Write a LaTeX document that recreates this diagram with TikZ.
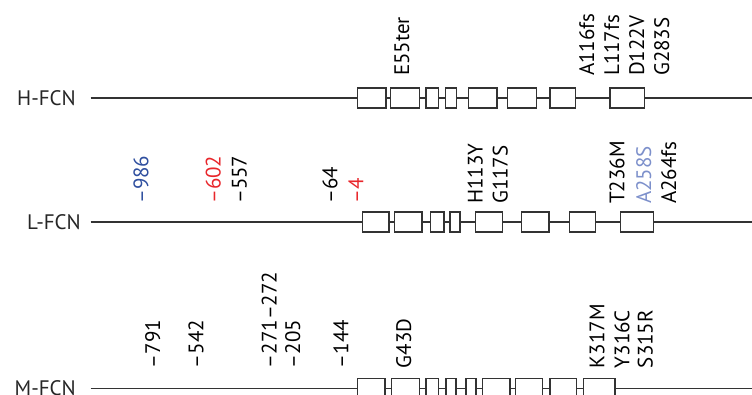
\documentclass[tikz,border=0pt]{standalone}
\usepackage{fontspec}
\setmainfont{PT Sans}
\usepackage{tikz}

\definecolor{snpblue}{HTML}{2F4F9F}
\definecolor{snpred}{HTML}{E8262B}
\definecolor{snplight}{HTML}{7D90CB}

\begin{document}
\begin{tikzpicture}[x=1pt, y=-1pt,
    exon/.style={draw=black!80, fill=white, line width=1.1pt, minimum height=20pt, inner sep=0pt},
    intron/.style={draw=black!80, line width=1.1pt},
    mut/.style={rotate=90, anchor=base west, inner sep=0pt, font=\fontsize{21}{25}\selectfont},
    gene/.style={anchor=east, inner sep=0pt, text=black!85, font=\fontsize{21}{25}\selectfont}]
        \useasboundingbox (0,0) rectangle (752,395);
        \clip (0,0) rectangle (752,395);

        % H-FCN
        \node[gene] (hname) at (76,98) {H-FCN};
        \coordinate (hs) at (90.7,98);
        \coordinate (he) at (752,98);
        \foreach \a/\b [count=\i] in {357.3/386, 390.7/419.3, 426/438.3, 445.7/456.7,
            468.3/497, 507.7/536.7, 550/575.3, 610/644.3}
            \node[exon, minimum width=\b-\a] (h\i) at ({(\a+\b)/2},98) {};
        \draw[intron] (hs) -- (h1);
        \foreach \i [evaluate=\i as \j using int(\i+1)] in {1,...,7}
            \draw[intron] (h\i) -- (h\j);
        \draw[intron] (h8) -- (he);

        \node[mut] (e55) at (409,76) {E55ter};
        \node[mut] (a116) at (594,76) {A116fs};
        \node[mut] (l117) at (619,76) {L117fs};
        \node[mut] (d122) at (644,76) {D122V};
        \node[mut] (g283) at (669,76) {G283S};

        % L-FCN
        \node[gene] (lname) at (81,222) {L-FCN};
        \coordinate (ls) at (90.7,222);
        \coordinate (le) at (752,222);
        \foreach \a/\b [count=\i] in {362.3/389, 394.7/422, 430.3/444, 450/460,
            475.3/502.7, 521.7/549, 569.3/595.3, 620.3/653.7}
            \node[exon, minimum width=\b-\a] (l\i) at ({(\a+\b)/2},222) {};
        \draw[intron] (ls) -- (l1);
        \foreach \i [evaluate=\i as \j using int(\i+1)] in {1,...,7}
            \draw[intron] (l\i) -- (l\j);
        \draw[intron] (l8) -- (le);

        \node[mut, text=snpblue] (p986) at (148.3,204) {–986};
        \node[mut, text=snpred] (p602) at (220.7,204) {–602};
        \node[mut] (p557) at (246.7,204) {–557};
        \node[mut] (p64) at (337.3,204) {–64};
        \node[mut, text=snpred] (p4) at (363.3,204) {–4};
        \node[mut] (h113) at (482.7,204) {H113Y};
        \node[mut] (g117) at (507.7,204) {G117S};
        \node[mut] (t236) at (624.3,204) {T236M};
        \node[mut, text=snplight] (a258) at (651,204) {A258S};
        \node[mut] (a264) at (676,204) {A264fs};

        % M-FCN
        \node[gene] (mname) at (76,388.5) {M-FCN};
        \coordinate (ms) at (90.7,388.5);
        \coordinate (me) at (752,388.5);
        \foreach \a/\b [count=\i] in {357.3/385, 391.7/419.3, 426/438.3, 446/456,
            466/476, 482.7/510, 515.7/542.7, 550/576.7, 583.3/615}
            \node[exon, minimum width=\b-\a] (m\i) at ({(\a+\b)/2},388.5) {};
        \draw[intron] (ms) -- (m1);
        \foreach \i [evaluate=\i as \j using int(\i+1)] in {1,...,8}
            \draw[intron] (m\i) -- (m\j);
        \draw[intron] (m9) -- (me);

        \node[mut] (p791) at (160,368.3) {–791};
        \node[mut] (p542) at (203.3,368.3) {–542};
        \node[mut] (p271) at (276.7,368.3) {–271–272};
        \node[mut] (p205) at (300,368.3) {–205};
        \node[mut] (p144) at (348.3,368.3) {–144};
        \node[mut] (g43) at (411,368.3) {G43D};
        \node[mut] (k317) at (604.3,368.3) {K317M};
        \node[mut] (y316) at (629.3,368.3) {Y316C};
        \node[mut] (s315) at (652.7,368.3) {S315R};

    \end{tikzpicture}
\end{document}
